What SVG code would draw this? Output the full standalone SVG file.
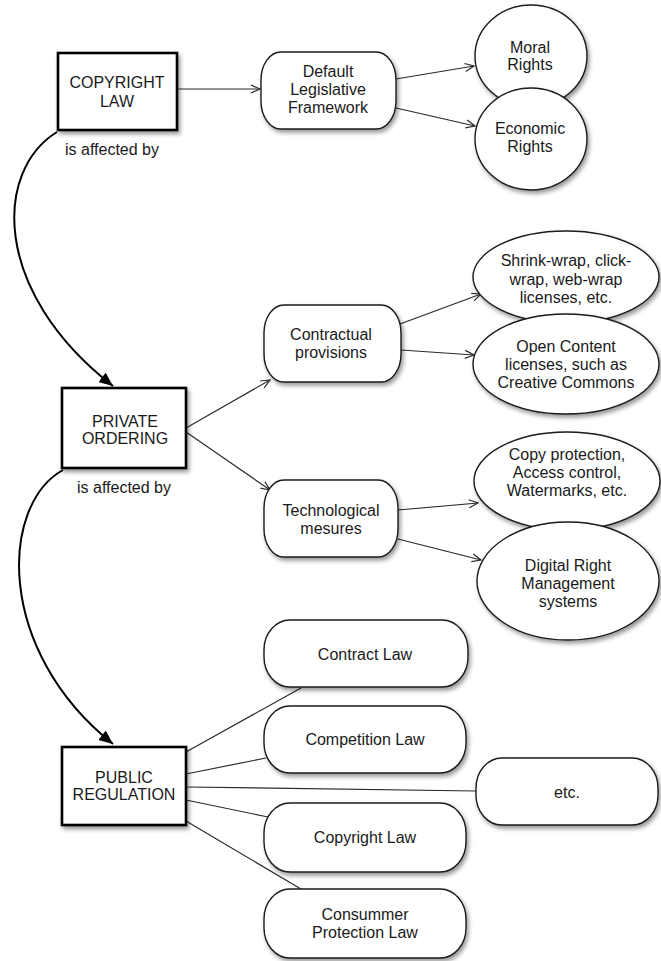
<svg xmlns="http://www.w3.org/2000/svg" width="661" height="961" viewBox="0 0 661 961">
<defs>
<style>
.t{font-family:"Liberation Sans",Arial,sans-serif;font-size:16px;fill:#1a1a1a;text-anchor:middle}
.box{fill:#fff;stroke:#000;stroke-width:2.6}
.nd{fill:#fff;stroke:#1a1a1a;stroke-width:1.4}
.ln{fill:none;stroke:#2a2a2a;stroke-width:1.2}
.cv{fill:none;stroke:#000;stroke-width:2}
</style>
<filter id="sh" x="-20%" y="-20%" width="150%" height="150%">
<feDropShadow dx="2" dy="3" stdDeviation="2" flood-color="#000" flood-opacity="0.4"/>
</filter>
<marker id="open" markerUnits="userSpaceOnUse" markerWidth="12" markerHeight="10" refX="10" refY="5" orient="auto">
<path d="M1,1 L10,5 L1,9" fill="none" stroke="#2a2a2a" stroke-width="1.2"/>
</marker>
<marker id="fill" markerUnits="userSpaceOnUse" markerWidth="16" markerHeight="12" refX="14" refY="6" orient="auto">
<path d="M0,0 L14,6 L0,12 z" fill="#000"/>
</marker>
</defs>
<rect width="661" height="961" fill="#fff"/>
<g id="connectors">
<path class="cv" d="M57,132 C-5,170 -10,290 113,386" marker-end="url(#fill)"/>
<path class="cv" d="M63,470 C0,505 -5,650 113,744" marker-end="url(#fill)"/>
<line class="ln" x1="177" y1="89" x2="260" y2="89" marker-end="url(#open)"/>
<line class="ln" x1="396" y1="79" x2="474" y2="66" marker-end="url(#open)"/>
<line class="ln" x1="396" y1="108" x2="475" y2="126" marker-end="url(#open)"/>
<line class="ln" x1="186" y1="428" x2="270" y2="380" marker-end="url(#open)"/>
<line class="ln" x1="186" y1="432" x2="270" y2="490" marker-end="url(#open)"/>
<line class="ln" x1="400" y1="324" x2="481" y2="294" marker-end="url(#open)"/>
<line class="ln" x1="401" y1="350" x2="474" y2="355" marker-end="url(#open)"/>
<line class="ln" x1="398" y1="510" x2="478" y2="503" marker-end="url(#open)"/>
<line class="ln" x1="398" y1="539" x2="481" y2="560" marker-end="url(#open)"/>
<line class="ln" x1="186" y1="752" x2="301" y2="688"/>
<line class="ln" x1="186" y1="774" x2="266" y2="758"/>
<line class="ln" x1="186" y1="787" x2="476" y2="791"/>
<line class="ln" x1="186" y1="800" x2="268" y2="817"/>
<line class="ln" x1="186" y1="821" x2="301" y2="889"/>
<text class="t" x="112" y="155">is affected by</text>
<text class="t" x="124" y="493">is affected by</text>
</g>
<g id="copyright-law">
<rect class="box" x="58" y="53" width="119" height="77" filter="url(#sh)"/>
<text class="t" x="117" y="88">COPYRIGHT</text>
<text class="t" x="117" y="107">LAW</text>
</g>
<g id="default-framework">
<rect class="nd" x="261" y="52" width="135" height="77" rx="20" ry="28" filter="url(#sh)"/>
<text class="t" x="328" y="77">Default</text>
<text class="t" x="328" y="95">Legislative</text>
<text class="t" x="328" y="113">Framework</text>
</g>
<g id="moral-rights">
<ellipse class="nd" cx="531" cy="56" rx="56" ry="51" filter="url(#sh)"/>
<text class="t" x="530" y="53">Moral</text>
<text class="t" x="530" y="70">Rights</text>
</g>
<g id="economic-rights">
<ellipse class="nd" cx="531" cy="139" rx="56" ry="51" filter="url(#sh)"/>
<text class="t" x="530" y="134">Economic</text>
<text class="t" x="530" y="152">Rights</text>
</g>
<g id="private-ordering">
<rect class="box" x="62" y="388" width="124" height="80" filter="url(#sh)"/>
<text class="t" x="125" y="427">PRIVATE</text>
<text class="t" x="125" y="444">ORDERING</text>
</g>
<g id="contractual">
<rect class="nd" x="264" y="305" width="137" height="77" rx="20" ry="28" filter="url(#sh)"/>
<text class="t" x="331" y="340">Contractual</text>
<text class="t" x="331" y="358">provisions</text>
</g>
<g id="shrink-wrap">
<ellipse class="nd" cx="566" cy="277" rx="93" ry="46" filter="url(#sh)"/>
<text class="t" x="566" y="266">Shrink-wrap, click-</text>
<text class="t" x="566" y="285">wrap, web-wrap</text>
<text class="t" x="566" y="303">licenses, etc.</text>
</g>
<g id="open-content">
<ellipse class="nd" cx="566" cy="364" rx="93" ry="50" filter="url(#sh)"/>
<text class="t" x="566" y="352">Open Content</text>
<text class="t" x="566" y="370">licenses, such as</text>
<text class="t" x="566" y="388">Creative Commons</text>
</g>
<g id="technological">
<rect class="nd" x="264" y="480" width="134" height="77" rx="20" ry="28" filter="url(#sh)"/>
<text class="t" x="331" y="516">Technological</text>
<text class="t" x="331" y="534">mesures</text>
</g>
<g id="copy-protection">
<ellipse class="nd" cx="567" cy="481" rx="93" ry="49" filter="url(#sh)"/>
<text class="t" x="567" y="460">Copy protection,</text>
<text class="t" x="567" y="478">Access control,</text>
<text class="t" x="567" y="496">Watermarks, etc.</text>
</g>
<g id="drm">
<ellipse class="nd" cx="568" cy="581" rx="91" ry="59" filter="url(#sh)"/>
<text class="t" x="568" y="571">Digital Right</text>
<text class="t" x="568" y="589">Management</text>
<text class="t" x="568" y="607">systems</text>
</g>
<g id="public-regulation">
<rect class="box" x="62" y="747" width="124" height="78" filter="url(#sh)"/>
<text class="t" x="124" y="783">PUBLIC</text>
<text class="t" x="124" y="800">REGULATION</text>
</g>
<g id="contract-law">
<rect class="nd" x="264" y="620" width="204" height="67" rx="26" ry="30" filter="url(#sh)"/>
<text class="t" x="365" y="660">Contract Law</text>
</g>
<g id="competition-law">
<rect class="nd" x="264" y="706" width="202" height="67" rx="26" ry="30" filter="url(#sh)"/>
<text class="t" x="365" y="745">Competition Law</text>
</g>
<g id="etc">
<rect class="nd" x="476" y="758" width="182" height="67" rx="26" ry="30" filter="url(#sh)"/>
<text class="t" x="567" y="798">etc.</text>
</g>
<g id="copyright-law-2">
<rect class="nd" x="264" y="803" width="202" height="69" rx="26" ry="30" filter="url(#sh)"/>
<text class="t" x="365" y="843">Copyright Law</text>
</g>
<g id="consumer-protection-law">
<rect class="nd" x="264" y="889" width="202" height="69" rx="26" ry="30" filter="url(#sh)"/>
<text class="t" x="365" y="920">Consummer</text>
<text class="t" x="365" y="938">Protection Law</text>
</g>
</svg>
